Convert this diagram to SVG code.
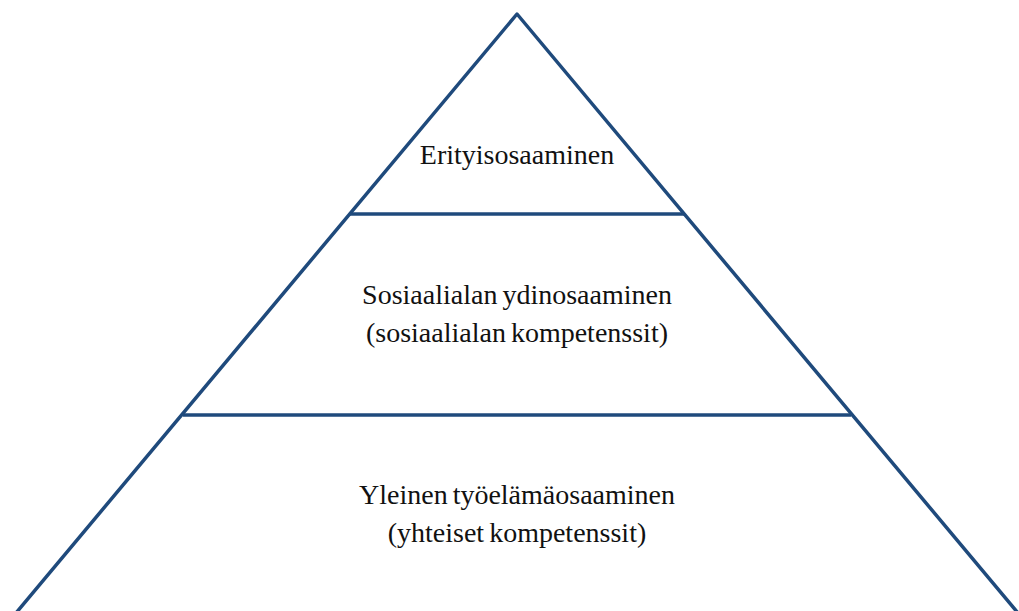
<svg xmlns="http://www.w3.org/2000/svg" width="1019" height="611" viewBox="0 0 1019 611">
<style>
.ln{stroke:#1f4a7c;stroke-width:3.5;fill:none;stroke-linejoin:round;stroke-linecap:butt}
.t{font-family:"Liberation Serif","Times New Roman",serif;font-size:28px;fill:#111;text-anchor:middle;word-spacing:-2px}
</style>
<rect width="1019" height="611" fill="#fff"/>
<g id="connectors">
<path class="ln" d="M16,613 L517,14 L1018,613"/>
<line class="ln" x1="350" y1="214" x2="684" y2="214"/>
<line class="ln" x1="183" y1="415" x2="851" y2="415"/>
</g>
<g id="node-top"><text class="t" x="517" y="164">Erityisosaaminen</text></g>
<g id="node-middle"><text class="t" x="517" y="304">Sosiaalialan ydinosaaminen</text><text class="t" x="517" y="342">(sosiaalialan kompetenssit)</text></g>
<g id="node-bottom"><text class="t" x="517" y="504">Yleinen työelämäosaaminen</text><text class="t" x="517" y="542">(yhteiset kompetenssit)</text></g>
</svg>
